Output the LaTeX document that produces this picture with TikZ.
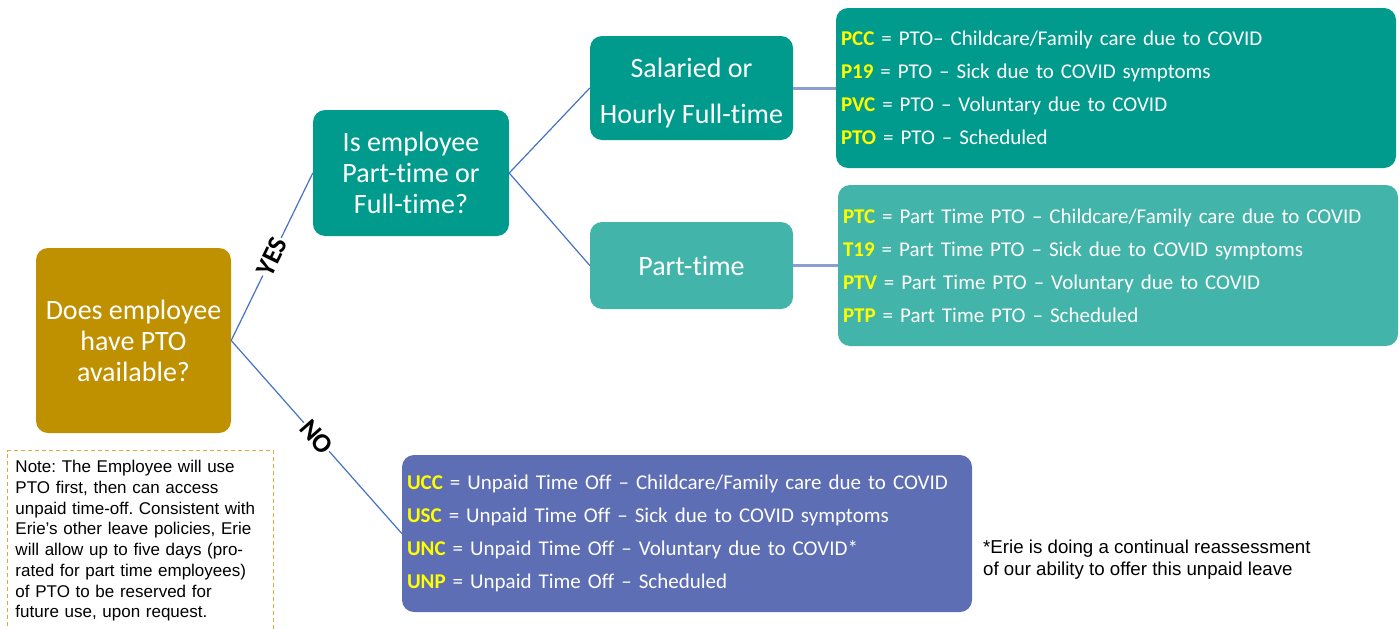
\documentclass[tikz,border=0pt]{standalone}
\usepackage{fontspec}
\setmainfont[Ligatures={TeX,NoCommon}]{Carlito}
\newfontfamily\notefont{Liberation Sans}
\definecolor{gold}{HTML}{BF9000}
\definecolor{teal}{HTML}{009B8C}
\definecolor{lteal}{HTML}{43B4A9}
\definecolor{slate}{HTML}{5E6EB4}
\definecolor{conn}{HTML}{4472C4}
\definecolor{conn2}{HTML}{8A9ED3}
\definecolor{codey}{HTML}{FFFF00}
\definecolor{notec}{HTML}{E0A83C}
\newcommand\pcode[1]{\textcolor{codey}{\textbf{#1}}}
\frenchspacing
\begin{document}
\begin{tikzpicture}[x=1pt,y=-1pt,
  box/.style={rounded corners=12pt, text=white, align=center, inner sep=0pt,
    font=\fontsize{28}{31}\selectfont},
  list/.style={rounded corners=12pt, text=white, align=left, inner xsep=5pt,
    inner ysep=0pt, font=\fontsize{21}{33}\selectfont},
  link/.style={draw=conn, line width=1.2pt},
  bar/.style={draw=conn2, line width=3pt},
  tag/.style={fill=white, sloped, inner sep=1pt, font=\bfseries\fontsize{27}{27}\selectfont}]
\useasboundingbox (0,0) rectangle (1400,629);

% decision boxes
\node[box, fill=gold, minimum width=195pt, minimum height=185pt] (pto) at (133.5,340.5)
  {Does employee\\have PTO\\available?};
\node[box, fill=teal, minimum width=196pt, minimum height=126pt] (ptft) at (411,173)
  {Is employee\\Part-time or\\Full-time?};
\node[box, fill=teal, minimum width=203pt, minimum height=104pt,
  font=\fontsize{28}{46}\selectfont] (full) at (691.5,88)
  {\rule{0pt}{29pt}Salaried or\\Hourly Full-time};
\node[box, fill=lteal, minimum width=203pt, minimum height=87pt] (part) at (691.5,265.5)
  {Part-time};

% code lists
\node[list, fill=teal, minimum width=560pt, minimum height=160pt, text width=550pt] (paid) at (1116,88)
  {\pcode{PCC} = PTO– Childcare/Family care due to COVID\\
   \pcode{P19} = PTO – Sick due to COVID symptoms\\
   \pcode{PVC} = PTO – Voluntary due to COVID\\
   \pcode{PTO} = PTO – Scheduled};
\node[list, fill=lteal, minimum width=560pt, minimum height=161pt, text width=550pt] (ptpaid) at (1118,265.5)
  {\pcode{PTC} = Part Time PTO – Childcare/Family care due to COVID\\
   \pcode{T19} = Part Time PTO – Sick due to COVID symptoms\\
   \pcode{PTV} = Part Time PTO – Voluntary due to COVID\\
   \pcode{PTP} = Part Time PTO – Scheduled};
\node[list, fill=slate, minimum width=570pt, minimum height=157pt, text width=560pt] (unpaid) at (687,533.5)
  {\pcode{UCC} = Unpaid Time Off – Childcare/Family care due to COVID\\
   \pcode{USC} = Unpaid Time Off – Sick due to COVID symptoms\\
   \pcode{UNC} = Unpaid Time Off – Voluntary due to COVID*\\
   \pcode{UNP} = Unpaid Time Off – Scheduled};

% notes
\node[draw=notec, dash pattern=on 4pt off 3pt, line width=1pt, anchor=north west,
  text width=250pt, inner xsep=8pt, inner ysep=10pt, align=left,
  font=\notefont\fontsize{17}{20.7}\selectfont] (note) at (7,450)
  {Note: The Employee will use\\
   PTO first, then can access\\
   unpaid time-off. Consistent with\\
   Erie’s other leave policies, Erie\\
   will allow up to five days (pro-\\
   rated for part time employees)\\
   of PTO to be reserved for\\
   future use, upon request.\par\vspace{30pt}\mbox{}};
\node[anchor=west, align=left, inner sep=0pt,
  font=\notefont\fontsize{18.7}{22}\selectfont] (foot) at (983,560)
  {*Erie is doing a continual reassessment\\of our ability to offer this unpaid leave};

% connectors
\draw[link] (pto.east) -- node[tag]{YES} (ptft.west);
\draw[link] (pto.east) -- node[tag]{NO} (unpaid.west);
\draw[link] (ptft.east) -- (full.west);
\draw[link] (ptft.east) -- (part.west);
\draw[bar] (full.east) -- (paid.west);
\draw[bar] (part.east) -- (ptpaid.west);
\end{tikzpicture}
\end{document}
